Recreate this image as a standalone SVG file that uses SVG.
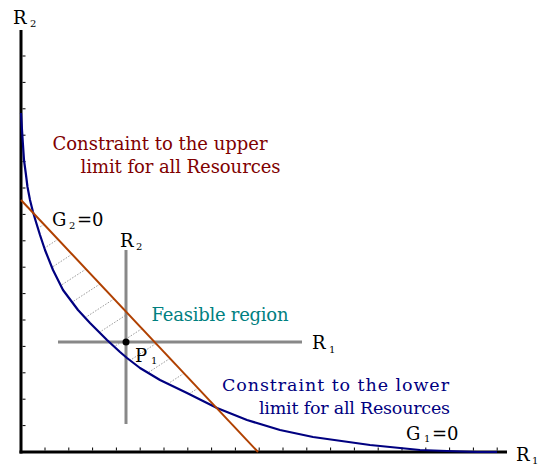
<svg xmlns="http://www.w3.org/2000/svg" width="538" height="465" viewBox="0 0 538 465">
<style>
text{font-family:"DejaVu Serif","Liberation Serif",serif;}
.lbl{font-size:18px;fill:#000;}
.sub{font-size:10px;fill:#000;}
.red{fill:#800000;font-size:18px;}
.blue{fill:#000080;font-size:17.5px;}
.teal{fill:#008080;font-size:18px;}
.tick{stroke:#000;stroke-width:1;}
.hatch{stroke:#9a9a9a;stroke-width:1;stroke-dasharray:1.5 1.5;}
</style>
<rect width="538" height="465" fill="#fff"/>
<g id="hatching">
<line class="hatch" x1="44" y1="224.4" x2="38.4" y2="228"/>
<line class="hatch" x1="58" y1="239.3" x2="44.5" y2="248"/>
<line class="hatch" x1="72" y1="254.2" x2="52" y2="267.3"/>
<line class="hatch" x1="86" y1="269.1" x2="60.7" y2="285.5"/>
<line class="hatch" x1="100" y1="284" x2="72" y2="302.2"/>
<line class="hatch" x1="114" y1="298.9" x2="85" y2="317.8"/>
<line class="hatch" x1="128" y1="313.7" x2="99" y2="332.6"/>
<line class="hatch" x1="142" y1="328.6" x2="114" y2="346.8"/>
<line class="hatch" x1="156" y1="343.5" x2="130" y2="360.4"/>
<line class="hatch" x1="170" y1="358.4" x2="148" y2="372.7"/>
<line class="hatch" x1="184" y1="373.3" x2="168" y2="383.7"/>
<line class="hatch" x1="198" y1="388.2" x2="189" y2="394"/>
</g>
<g id="axes">
<line x1="21" y1="30" x2="21" y2="453.5" stroke="#000" stroke-width="3"/>
<line x1="19.5" y1="452" x2="507" y2="452" stroke="#000" stroke-width="3"/>
<path class="tick" d="M22.5 425.6h3M22.5 399.2h3M22.5 372.8h3M22.5 346.4h3M22.5 320h3M22.5 293.6h3M22.5 267.2h3M22.5 240.8h3M22.5 214.4h3M22.5 188h3M22.5 161.6h3M22.5 135.2h3M22.5 108.8h3M22.5 82.4h3M22.5 56h3"/>
<path class="tick" d="M45 450.5v-3M68.8 450.5v-3M92.6 450.5v-3M116.4 450.5v-3M140.2 450.5v-3M164 450.5v-3M187.8 450.5v-3M211.6 450.5v-3M235.4 450.5v-3M259.2 450.5v-3M283 450.5v-3M306.8 450.5v-3M330.6 450.5v-3M354.4 450.5v-3M378.2 450.5v-3M402 450.5v-3M425.8 450.5v-3M449.6 450.5v-3M473.4 450.5v-3M497.2 450.5v-3"/>
</g>
<g id="crosshair">
<line x1="126" y1="250" x2="126" y2="424" stroke="#888" stroke-width="3"/>
<line x1="58" y1="342" x2="302" y2="342" stroke="#888" stroke-width="3"/>
</g>
<g id="connectors">
<polyline id="lower-constraint" fill="none" stroke="#000080" stroke-width="2.2" stroke-linejoin="round" points="21,113 22,130 23,145 24,160 26,175 27.5,187 30,200 33,212 36,222 40,235 45,250 53,270 63,290 78,310 90,323 107,340 120,352 127,358 140,368 160,380 187,393 217,408 247,420 280,430 313,437 370,445 420,450 447,451 477,452 497,452"/>
<line id="upper-constraint" x1="21" y1="200" x2="258" y2="452" stroke="#b04000" stroke-width="2"/>
</g>
<g id="P1">
<circle cx="126" cy="342" r="3.5" fill="#000"/>
<text class="lbl" x="135" y="362">P</text><text class="sub" x="151" y="364">1</text>
</g>
<g id="axis-labels">
<text class="lbl" x="13" y="24">R</text><text class="sub" x="30" y="27">2</text>
<text class="lbl" x="516" y="461">R</text><text class="sub" x="532" y="464">1</text>
<text class="lbl" x="120" y="247">R</text><text class="sub" x="136" y="250">2</text>
<text class="lbl" x="312" y="349">R</text><text class="sub" x="329" y="353">1</text>
</g>
<g id="G2">
<text class="lbl" x="52" y="226">G</text><text class="sub" x="69" y="229">2</text><text class="lbl" x="77" y="226">=0</text>
</g>
<g id="G1">
<text class="lbl" x="406" y="440">G</text><text class="sub" x="424" y="442">1</text><text class="lbl" x="432" y="440">=0</text>
</g>
<g id="upper-label">
<text class="red" x="52.5" y="150" textLength="215" lengthAdjust="spacing">Constraint to the upper</text>
<text class="red" x="80.5" y="172.5" textLength="200" lengthAdjust="spacing">limit for all Resources</text>
</g>
<g id="feasible">
<text class="teal" x="151.5" y="320.5" textLength="137" lengthAdjust="spacing">Feasible region</text>
</g>
<g id="lower-label">
<text class="blue" x="222" y="391" textLength="227" lengthAdjust="spacing">Constraint to the lower</text>
<text class="blue" x="259" y="414" textLength="191" lengthAdjust="spacing">limit for all Resources</text>
</g>
</svg>
